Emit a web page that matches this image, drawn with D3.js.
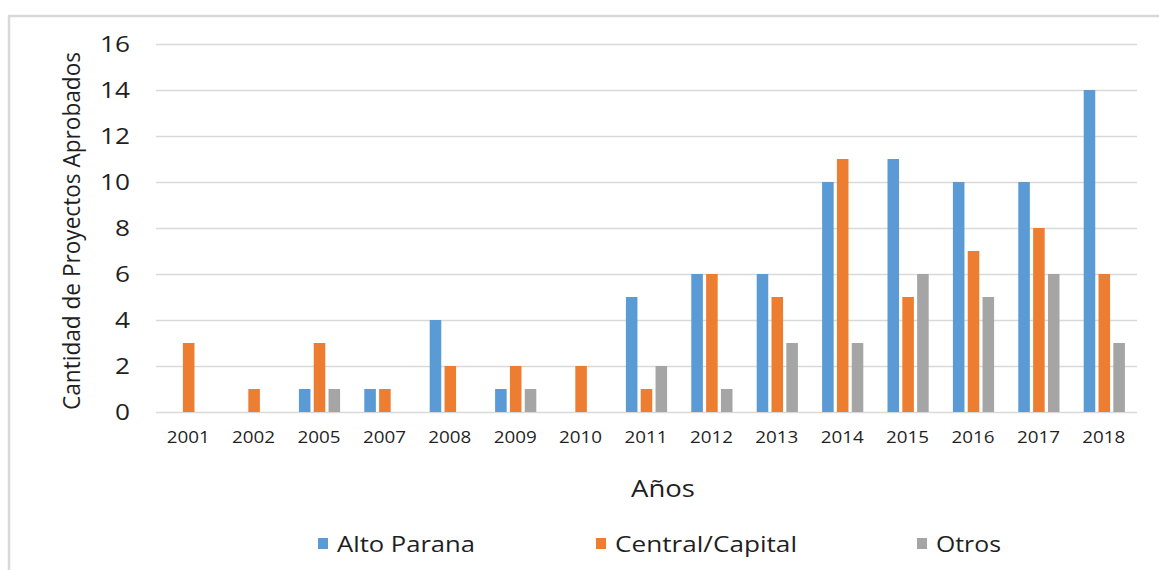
<!DOCTYPE html>
<head>
    <meta charset="utf-8">
    <script src="https://d3js.org/d3.v7.min.js"></script>
    <style>
        body { margin: 0; background: #fff; }
        text { font-family: "Open Sans", "Noto Sans", sans-serif; fill: #1f1f1f; }
    </style>
</head>

<body>
    <svg width="1159" height="570"></svg>

    <script>
        // data
        const years = ["2001", "2002", "2005", "2007", "2008", "2009", "2010", "2011",
            "2012", "2013", "2014", "2015", "2016", "2017", "2018"]
        const seriesNames = ["Alto Parana", "Central/Capital", "Otros"]
        const altoParana = [0, 0, 1, 1, 4, 1, 0, 5, 6, 6, 10, 11, 10, 10, 14]
        const centralCapital = [3, 1, 3, 1, 2, 2, 2, 1, 6, 5, 11, 5, 7, 8, 6]
        const otros = [0, 0, 1, 0, 0, 1, 0, 2, 1, 3, 3, 6, 5, 6, 3]
        const yTicks = [0, 2, 4, 6, 8, 10, 12, 14, 16]
        const colors = ["#5B9BD5", "#ED7D31", "#A5A5A5"]

        const values = [altoParana, centralCapital, otros]
        const rows = years.map((yr, i) => ({
            year: yr,
            vals: seriesNames.map((s, k) => ({ key: s, value: values[k][i] }))
        }))

        const svg = d3.select("svg")

        // chart frame (top and left edges visible)
        svg.append("line").attr("x1", 8).attr("x2", 1159).attr("y1", 16).attr("y2", 16)
            .attr("stroke", "#d9d9d9").attr("stroke-width", 2.5)
        svg.append("line").attr("x1", 9).attr("x2", 9).attr("y1", 16).attr("y2", 570)
            .attr("stroke", "#d9d9d9").attr("stroke-width", 2.5)

        const plotLeft = 156, plotRight = 1137, plotTop = 44, plotBottom = 412

        const x0 = d3.scaleBand().domain(years).range([plotLeft, plotRight]).paddingInner(0.37).paddingOuter(0.185)
        const x1 = d3.scaleBand().domain(seriesNames).range([0, x0.bandwidth()]).paddingInner(0.22)
        const y = d3.scaleLinear().domain([0, 16]).range([plotBottom, plotTop])

        // gridlines
        svg.append("g")
            .selectAll("line")
            .data(yTicks)
            .join("line")
            .attr("x1", plotLeft)
            .attr("x2", plotRight)
            .attr("y1", d => Math.round(y(d)) + 0.5)
            .attr("y2", d => Math.round(y(d)) + 0.5)
            .attr("stroke", "#d9d9d9")
            .attr("stroke-width", 1.3)

        // y tick labels
        svg.append("g")
            .selectAll("text")
            .data(yTicks)
            .join("text")
            .attr("x", 130)
            .attr("y", d => y(d))
            .attr("dy", "0.36em")
            .attr("text-anchor", "end")
            .attr("font-size", 21)
            .attr("textLength", d => String(d).length * 15)
            .attr("lengthAdjust", "spacingAndGlyphs")
            .text(d => d)

        // bars
        const groups = svg.append("g")
            .selectAll("g")
            .data(rows)
            .join("g")
            .attr("transform", d => `translate(${x0(d.year)},0)`)

        groups.selectAll("rect")
            .data(d => d.vals.filter(v => v.value > 0))
            .join("rect")
            .attr("x", d => x1(d.key))
            .attr("width", x1.bandwidth())
            .attr("y", d => y(d.value))
            .attr("height", d => y(0) - y(d.value))
            .attr("fill", d => colors[seriesNames.indexOf(d.key)])

        // x tick labels
        svg.append("g")
            .selectAll("text")
            .data(years)
            .join("text")
            .attr("x", d => x0(d) + x0.bandwidth() / 2 - 22)
            .attr("y", 443)
            .attr("font-size", 16)
            .attr("textLength", 43)
            .attr("lengthAdjust", "spacingAndGlyphs")
            .text(d => d)

        // axis titles
        svg.append("text")
            .attr("transform", "translate(80,231) rotate(-90)")
            .attr("text-anchor", "middle")
            .attr("font-size", 23)
            .attr("textLength", 358)
            .attr("lengthAdjust", "spacingAndGlyphs")
            .text("Cantidad de Proyectos Aprobados")

        svg.append("text")
            .attr("x", 631)
            .attr("y", 497)
            .attr("font-size", 23)
            .attr("textLength", 64)
            .attr("lengthAdjust", "spacingAndGlyphs")
            .text("Años")

        // legend
        const legendX = [318, 596, 917]
        const legendW = [138, 182, 65]
        const legend = svg.append("g")
            .selectAll("g")
            .data(seriesNames)
            .join("g")
            .attr("transform", (d, i) => `translate(${legendX[i]},0)`)
        legend.append("rect")
            .attr("x", 0).attr("y", 538).attr("width", 10).attr("height", 11)
            .attr("fill", (d, i) => colors[i])
        legend.append("text")
            .attr("x", 19)
            .attr("y", 552)
            .attr("font-size", 22)
            .attr("textLength", (d, i) => legendW[i])
            .attr("lengthAdjust", "spacingAndGlyphs")
            .text(d => d)
    </script>
</body>
